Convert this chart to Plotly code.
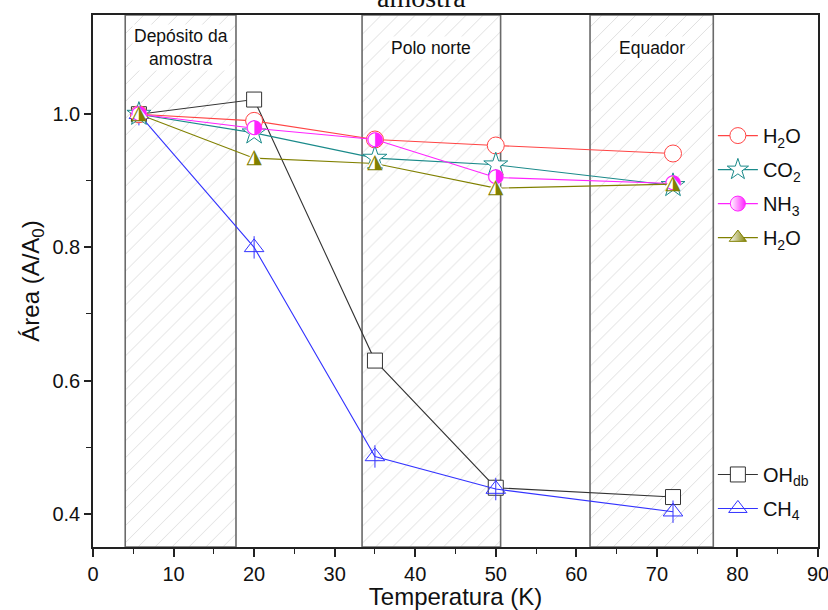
import plotly.graph_objects as go

# ---- data ----
temps = [5.7, 20, 35, 50, 72]
h2o = [1.0, 0.990, 0.962, 0.953, 0.941]
co2 = [1.0, 0.972, 0.934, 0.924, 0.893]
nh3 = [1.0, 0.979, 0.962, 0.905, 0.896]
h2o_b = [1.0, 0.934, 0.926, 0.889, 0.895]
oh_db = [1.0, 1.022, 0.630, 0.439, 0.425]
ch4 = [1.0, 0.800, 0.486, 0.437, 0.403]

region_starts = [4.0, 33.4, 61.7]
region_ends = [17.75, 50.6, 77.0]
region_labels = ["Depósito da<br>amostra", "Polo norte", "Equador"]

x_ticks = [0, 10, 20, 30, 40, 50, 60, 70, 80, 90]
y_ticks = [0.4, 0.6, 0.8, 1.0]

XR = [0, 90]
YR = [0.35, 1.149]

fig = go.Figure()

# hatched regions
for x0, x1 in zip(region_starts, region_ends):
    fig.add_trace(go.Scatter(
        x=[x0, x1, x1, x0, x0], y=[YR[0], YR[0], YR[1], YR[1], YR[0]],
        mode="lines", fill="toself", fillcolor="rgba(0,0,0,0)",
        fillpattern=dict(shape="/", fgcolor="#bdbdbd", bgcolor="white", size=12, solidity=0.08),
        line=dict(color="#6a6a6a", width=1.6), hoverinfo="skip", showlegend=False))

for x0, x1, lab in zip(region_starts, region_ends, region_labels):
    fig.add_annotation(x=(x0 + x1) / 2, y=1.1, xref="x", yref="y", text=lab,
                       showarrow=False, yanchor="middle", bgcolor="white",
                       font=dict(family="Liberation Sans, Arial", size=17.5, color="#111"))


def add_series(y, name, color, symbol, size, legend, rank, fill="white"):
    fig.add_trace(go.Scatter(x=temps, y=y, name=name, mode="lines+markers",
                             line=dict(color=color, width=1.1),
                             marker=dict(symbol=symbol, size=size, color=fill,
                                         line=dict(color=color, width=1)),
                             legend=legend, legendrank=rank, legendgroup=name + str(rank)))


def add_half(y, name, color, symbol, size, glyph, gsize, rank):
    # line + white marker (data), half-filled glyph on top, legend-only proxy entry
    fig.add_trace(go.Scatter(x=temps, y=y, mode="lines+markers", showlegend=False,
                             line=dict(color=color, width=1.1),
                             marker=dict(symbol=symbol, size=size, color="white",
                                         line=dict(color=color, width=0))))
    fig.add_trace(go.Scatter(x=temps, y=y, mode="text", text=[glyph] * len(temps),
                             textposition="middle center", showlegend=False,
                             textfont=dict(family="DejaVu Sans", size=gsize, color=color),
                             hoverinfo="skip"))
    fig.add_trace(go.Scatter(x=[None], y=[None], name=name, mode="lines+markers",
                             line=dict(color=color, width=1.1),
                             marker=dict(symbol=symbol, size=size, color="white",
                                         line=dict(color=color, width=1),
                                         gradient=dict(type="horizontal", color=color)),
                             legend="legend", legendrank=rank, legendgroup=name + str(rank)))


add_series(oh_db, "OH<sub>db</sub>", "#333333", "square", 15, "legend2", 1)
fig.add_trace(go.Scatter(x=temps, y=ch4, name="CH<sub>4</sub>", mode="lines+markers",
                         line=dict(color="#3333FF", width=1.1),
                         marker=dict(symbol="triangle-up-open", size=17, color="#3333FF",
                                     line=dict(width=1)),
                         legend="legend2", legendrank=2, legendgroup="ch4"))
fig.add_trace(go.Scatter(x=temps, y=ch4, mode="markers", showlegend=False,
                         marker=dict(symbol="line-ns-open", size=16, color="#3333FF",
                                     line=dict(color="#3333FF", width=1)),
                         hoverinfo="skip"))
add_series(h2o, "H<sub>2</sub>O", "#FF4444", "circle", 17, "legend", 1)
add_series(co2, "CO<sub>2</sub>", "#1A8A8A", "star", 18, "legend", 2)
add_half(nh3, "NH<sub>3</sub>", "#FF22FF", "circle", 15, "◑", 20, 3)
add_half(h2o_b, "H<sub>2</sub>O", "#808000", "triangle-up", 15, "◮", 20, 4)

x_font = dict(family="Liberation Sans, Arial", size=20, color="#111")
y_font = dict(family="Liberation Sans, Arial", size=20, color="#111")
fig.update_xaxes(range=XR, tickvals=x_ticks, ticks="outside", ticklen=8, tickwidth=1.5,
                 tickcolor="#222", showline=True, linecolor="#222", linewidth=1.5, mirror=True,
                 showgrid=False, zeroline=False, tickfont=x_font, ticklabeloverflow="allow",
                 automargin=False,
                 minor=dict(tickvals=[5, 15, 25, 35, 45, 55, 65, 75, 85], ticks="outside",
                            ticklen=5, tickwidth=1.2, tickcolor="#222"),
                 title=dict(text="Temperatura (K)",
                            font=dict(family="Liberation Sans, Arial", size=24, color="#111"),
                            standoff=0))
fig.update_yaxes(range=YR, tickvals=y_ticks, tickformat=".1f", ticks="outside", ticklen=7,
                 tickwidth=1.5, tickcolor="#222", showline=True, linecolor="#222",
                 linewidth=1.5, mirror=True, showgrid=False, zeroline=False, tickfont=y_font,
                 minor=dict(tickvals=[0.5, 0.7, 0.9], ticks="outside", ticklen=5,
                            tickwidth=1.2, tickcolor="#222"),
                 title=dict(text="Área (A/A<sub>0</sub>)",
                            font=dict(family="Liberation Sans, Arial", size=24, color="#111"),
                            standoff=6))

fig.add_annotation(text="amostra", xref="paper", yref="paper", x=0.4525, y=1.0,
                   xanchor="center", yanchor="bottom", showarrow=False,
                   font=dict(family="Liberation Serif, Times New Roman", size=28, color="#111"))

leg_font = dict(family="Liberation Sans, Arial", size=20, color="#111")
fig.update_layout(
    width=828, height=610,
    margin=dict(l=93, r=8, t=15, b=63),
    plot_bgcolor="white", paper_bgcolor="white",
    legend=dict(x=0.855, y=0.81, xanchor="left", yanchor="top", bgcolor="rgba(0,0,0,0)",
                font=leg_font, tracegroupgap=5, itemwidth=40, traceorder="grouped"),
    legend2=dict(x=0.855, y=0.173, xanchor="left", yanchor="top", bgcolor="rgba(0,0,0,0)",
                 font=leg_font, tracegroupgap=5, itemwidth=40, traceorder="grouped"),
)

fig.write_html("out.html", config={"displayModeBar": False},
               post_script="document.body.style.margin='0';")
